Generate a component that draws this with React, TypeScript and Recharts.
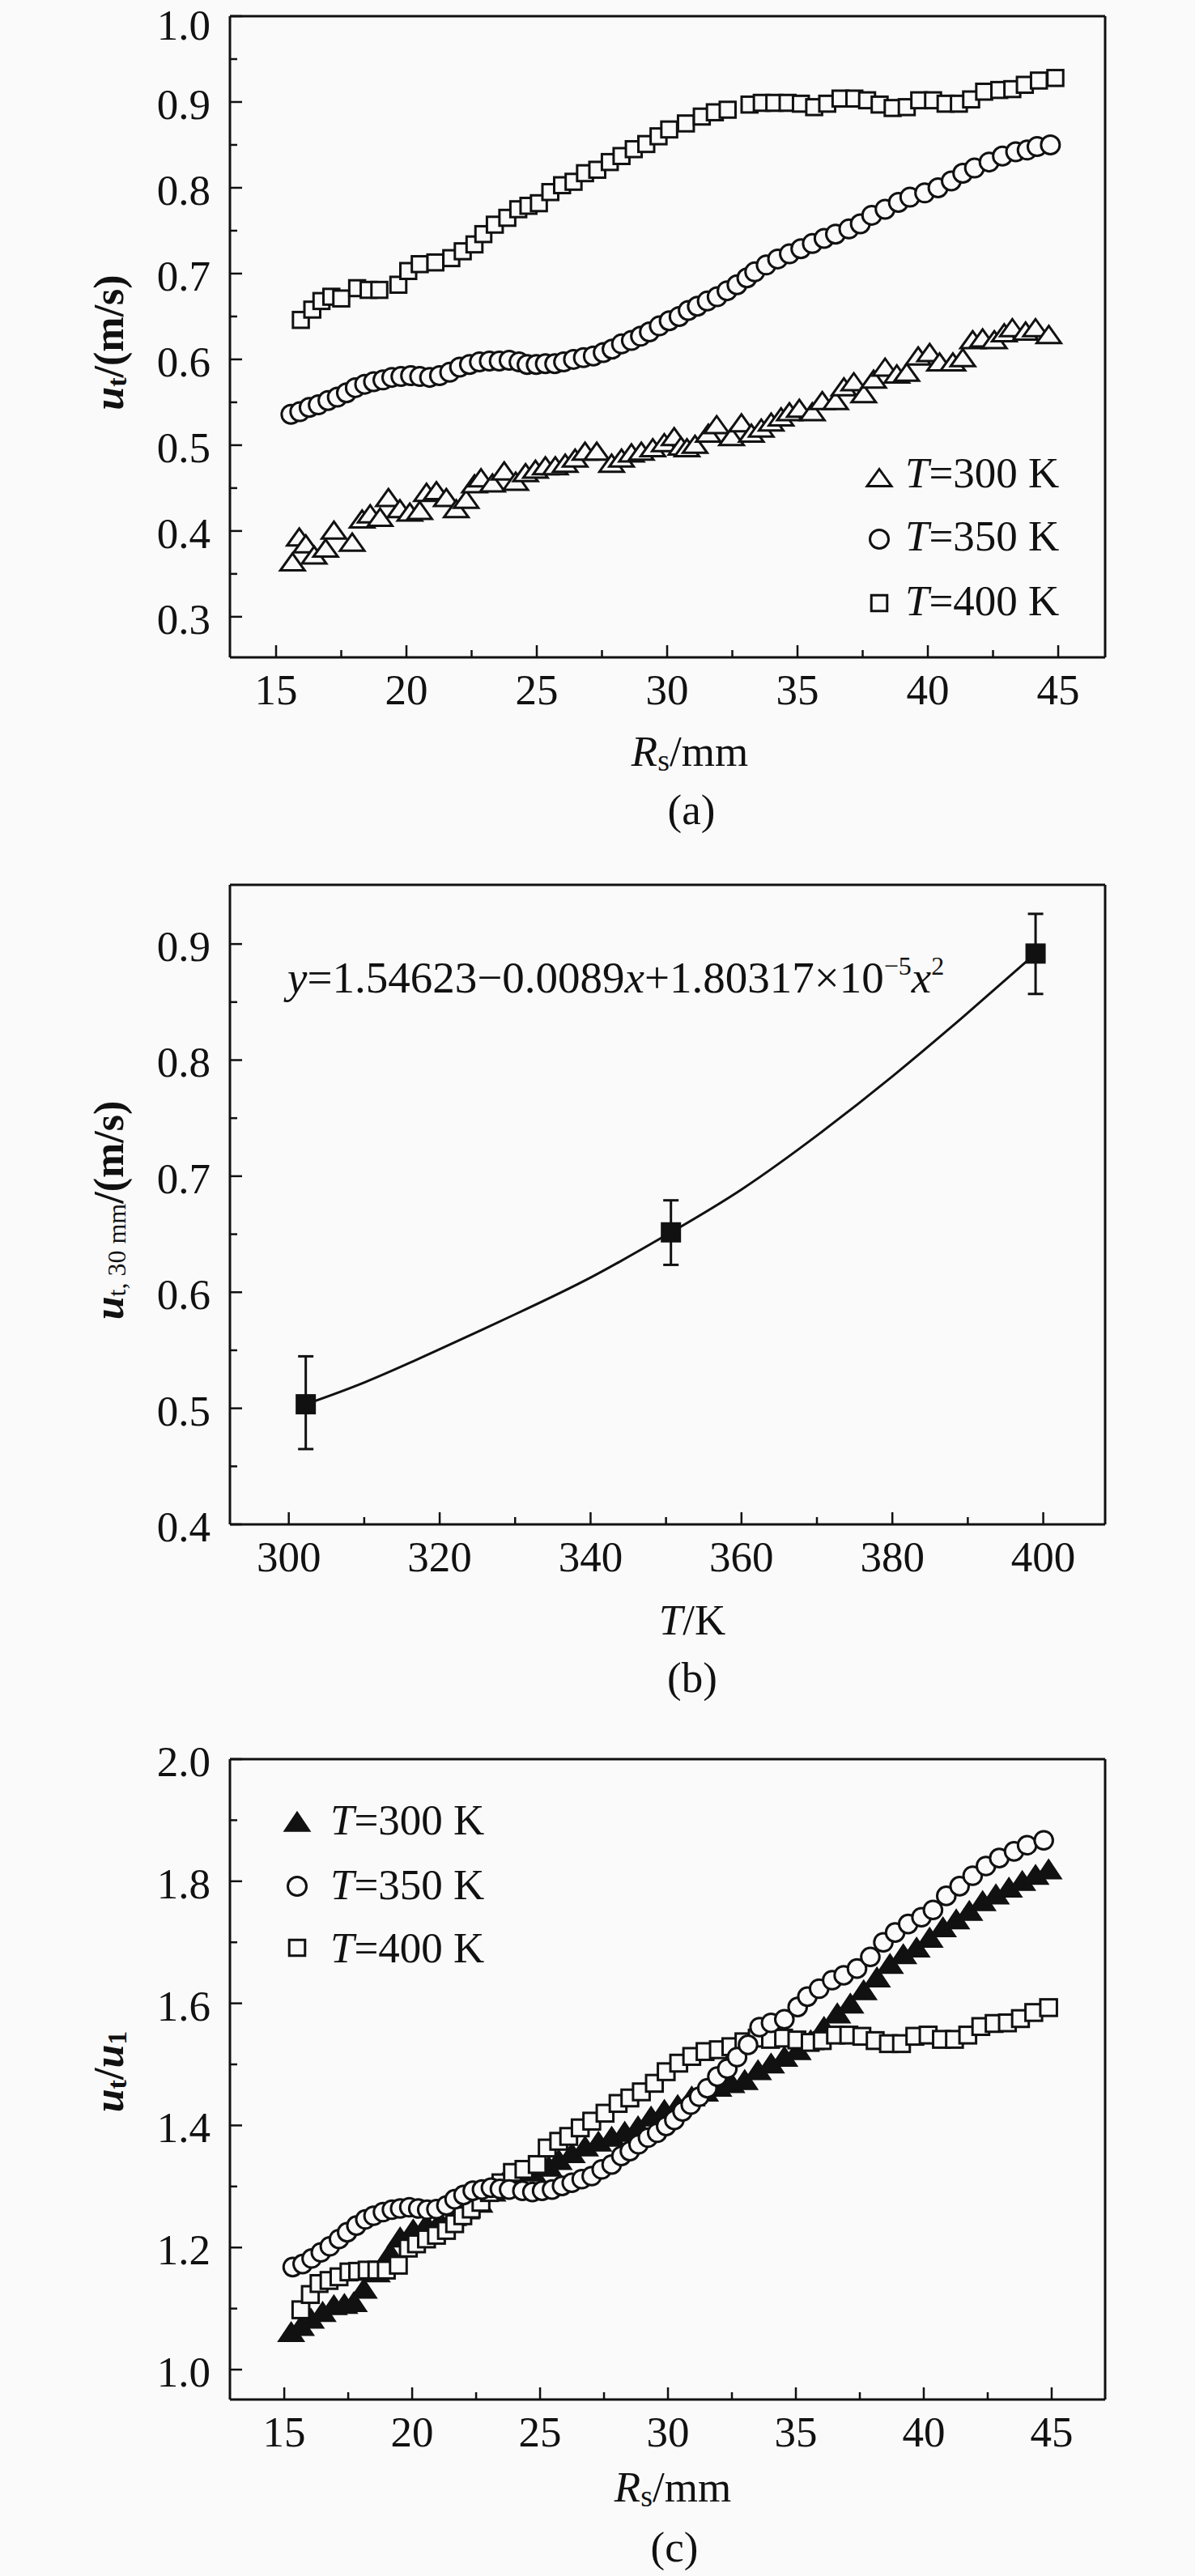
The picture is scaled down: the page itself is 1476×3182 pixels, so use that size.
import React from 'react';
import { ScatterChart, Scatter, XAxis, YAxis, ReferenceLine, ErrorBar, Legend } from 'recharts';

const FONT = '"Liberation Serif", "Times New Roman", serif';
const INK = '#111';
const BG = '#fafafa';

// ---------- (a) u_t vs R_s ----------
const a300: [number, number][] = [
  [15.63,0.364],[15.89,0.393],[16.14,0.385],[16.46,0.372],[16.90,0.380],[17.22,0.401],[17.92,0.387],[18.30,0.414],
  [18.61,0.420],[18.99,0.416],[19.31,0.439],[19.75,0.426],[20.13,0.422],[20.51,0.424],[20.77,0.445],[21.15,0.447],
  [21.53,0.439],[21.91,0.426],[22.29,0.437],[22.61,0.455],[22.86,0.462],[23.30,0.456],[23.75,0.470],[24.19,0.458],
  [24.57,0.468],[24.95,0.472],[25.33,0.476],[25.71,0.476],[26.09,0.479],[26.47,0.485],[26.85,0.493],[27.30,0.493],
  [27.87,0.479],[28.25,0.485],[28.63,0.491],[29.01,0.493],[29.45,0.497],[29.89,0.503],[30.27,0.510],[30.53,0.499],
  [30.76,0.497],[31.07,0.501],[31.58,0.514],[31.90,0.524],[32.47,0.510],[32.85,0.526],[33.23,0.514],[33.61,0.520],
  [33.99,0.527],[34.37,0.533],[34.69,0.539],[35.07,0.543],[35.57,0.539],[35.95,0.552],[36.46,0.552],[36.78,0.568],
  [37.16,0.574],[37.54,0.560],[37.92,0.577],[38.36,0.591],[38.81,0.583],[39.19,0.585],[39.63,0.604],[40.07,0.608],
  [40.45,0.597],[40.96,0.597],[41.34,0.602],[41.72,0.623],[42.10,0.625],[42.55,0.623],[42.93,0.631],[43.24,0.637],
  [43.75,0.633],[44.13,0.637],[44.64,0.629],
];
const a350: [number, number][] = [
  [15.57,0.536],[15.91,0.539],[16.27,0.544],[16.62,0.547],[16.99,0.552],[17.35,0.556],[17.70,0.561],[18.04,0.567],
  [18.40,0.571],[18.74,0.574],[19.10,0.576],[19.44,0.579],[19.79,0.580],[20.16,0.581],[20.51,0.580],[20.89,0.579],
  [21.27,0.581],[21.66,0.585],[22.04,0.591],[22.42,0.594],[22.80,0.597],[23.18,0.598],[23.56,0.598],[23.94,0.599],
  [24.32,0.597],[24.63,0.594],[24.98,0.594],[25.33,0.595],[25.69,0.595],[26.03,0.597],[26.41,0.600],[26.79,0.602],
  [27.17,0.604],[27.55,0.608],[27.89,0.612],[28.25,0.618],[28.63,0.622],[28.98,0.627],[29.32,0.632],[29.70,0.639],
  [30.08,0.645],[30.46,0.650],[30.81,0.657],[31.16,0.662],[31.54,0.668],[31.92,0.673],[32.30,0.680],[32.68,0.687],
  [33.06,0.695],[33.36,0.702],[33.80,0.710],[34.24,0.717],[34.69,0.723],[35.13,0.729],[35.57,0.735],[36.02,0.741],
  [36.46,0.746],[36.97,0.752],[37.41,0.758],[37.85,0.768],[38.36,0.775],[38.87,0.783],[39.31,0.789],[39.88,0.794],
  [40.39,0.800],[40.90,0.808],[41.34,0.817],[41.79,0.823],[42.35,0.830],[42.86,0.837],[43.37,0.842],[43.81,0.844],
  [44.19,0.848],[44.70,0.850],
];
const a400: [number, number][] = [
  [15.95,0.646],[16.39,0.658],[16.74,0.668],[17.12,0.673],[17.50,0.671],[18.11,0.683],[18.55,0.681],[18.96,0.681],
  [19.69,0.687],[20.07,0.703],[20.51,0.711],[21.11,0.713],[21.72,0.718],[22.16,0.726],[22.61,0.734],[22.95,0.746],
  [23.39,0.757],[23.87,0.765],[24.29,0.775],[24.68,0.779],[25.08,0.782],[25.52,0.795],[25.97,0.803],[26.41,0.807],
  [26.85,0.817],[27.32,0.821],[27.80,0.830],[28.25,0.837],[28.72,0.845],[29.20,0.851],[29.67,0.860],[30.08,0.868],
  [30.72,0.875],[31.33,0.883],[31.83,0.888],[32.32,0.891],[33.16,0.897],[33.63,0.899],[34.11,0.899],[34.62,0.899],
  [35.13,0.898],[35.64,0.894],[36.14,0.898],[36.65,0.904],[37.18,0.904],[37.67,0.902],[38.15,0.897],[38.65,0.893],
  [39.19,0.894],[39.67,0.902],[40.20,0.902],[40.68,0.898],[41.19,0.898],[41.66,0.903],[42.16,0.912],[42.74,0.914],
  [43.24,0.915],[43.72,0.920],[44.26,0.925],[44.89,0.928],
];
const aXMajor = [15, 20, 25, 30, 35, 40, 45];
const aXMinor = [17.5, 22.5, 27.5, 32.5, 37.5, 42.5];
const aYMajor = [0.3, 0.4, 0.5, 0.6, 0.7, 0.8, 0.9, 1.0];
const aYMinor = [0.35, 0.45, 0.55, 0.65, 0.75, 0.85, 0.95];

// ---------- (b) u_t,30mm vs T ----------
const bT = [302.25, 350.65, 398.98];
const bU = [0.5035, 0.6516, 0.8918];
const bLow = [0.4649, 0.6236, 0.857];
const bHigh = [0.5448, 0.6792, 0.926];
const bCurveT = [302.25, 310.1, 319.7, 330.0, 340.25, 350.65, 360.1, 370.4, 380.0, 389.5, 398.98];
const bCurveU = [0.5035, 0.5225, 0.550, 0.581, 0.6135, 0.6516, 0.689, 0.737, 0.786, 0.838, 0.8918];
const bXMajor = [300, 320, 340, 360, 380, 400];
const bXMinor = [310, 330, 350, 370, 390];
const bYMajor = [0.4, 0.5, 0.6, 0.7, 0.8, 0.9];
const bYMinor = [0.45, 0.55, 0.65, 0.75, 0.85];

// ---------- (c) u_t/u_1 vs R_s ----------
const c300: [number, number][] = [
  [15.27,1.062],[15.65,1.072],[16.04,1.084],[16.50,1.095],[16.94,1.106],[17.35,1.108],[17.72,1.111],[18.11,1.133],
  [18.62,1.160],[19.14,1.192],[19.53,1.217],[20.04,1.230],[20.56,1.239],[21.08,1.244],[21.60,1.252],[22.11,1.263],
  [22.63,1.274],[23.14,1.292],[23.53,1.306],[24.05,1.317],[24.70,1.325],[25.34,1.333],[25.73,1.344],[26.24,1.355],
  [26.76,1.366],[27.28,1.374],[27.80,1.382],[28.31,1.390],[28.83,1.399],[29.34,1.415],[29.86,1.426],[30.38,1.434],
  [30.93,1.448],[31.45,1.456],[31.97,1.464],[32.48,1.470],[33.00,1.475],[33.52,1.491],[34.03,1.502],[34.55,1.513],
  [35.07,1.524],[35.58,1.540],[36.10,1.562],[36.62,1.584],[37.13,1.600],[37.65,1.622],[38.17,1.643],[38.68,1.665],
  [39.20,1.681],[39.72,1.692],[40.23,1.708],[40.75,1.725],[41.27,1.738],[41.78,1.752],[42.30,1.768],[42.82,1.779],
  [43.33,1.790],[43.85,1.801],[44.37,1.811],[44.88,1.820],
];
const c350: [number, number][] = [
  [15.33,1.168],[15.72,1.173],[16.07,1.182],[16.43,1.192],[16.78,1.202],[17.14,1.214],[17.46,1.225],[17.82,1.236],
  [18.17,1.246],[18.49,1.252],[18.86,1.258],[19.21,1.262],[19.53,1.264],[19.89,1.266],[20.24,1.264],[20.59,1.262],
  [20.95,1.263],[21.34,1.269],[21.66,1.279],[22.01,1.286],[22.37,1.293],[22.73,1.295],[23.08,1.298],[23.43,1.296],
  [23.79,1.295],[24.31,1.293],[24.70,1.291],[25.08,1.293],[25.47,1.295],[25.86,1.301],[26.24,1.306],[26.63,1.312],
  [27.02,1.317],[27.41,1.328],[27.80,1.336],[28.18,1.350],[28.51,1.358],[28.85,1.369],[29.22,1.380],[29.58,1.388],
  [29.93,1.399],[30.25,1.409],[30.57,1.423],[30.89,1.434],[31.22,1.447],[31.54,1.461],[31.93,1.480],[32.32,1.493],
  [32.70,1.512],[33.13,1.532],[33.58,1.561],[34.03,1.568],[34.55,1.574],[35.07,1.594],[35.45,1.611],[35.91,1.624],
  [36.42,1.638],[36.87,1.646],[37.39,1.657],[37.91,1.676],[38.42,1.700],[38.88,1.716],[39.39,1.730],[39.91,1.741],
  [40.36,1.753],[40.88,1.776],[41.40,1.792],[41.91,1.809],[42.43,1.825],[42.95,1.838],[43.53,1.849],[44.04,1.859],
  [44.69,1.867],
];
const c400: [number, number][] = [
  [15.65,1.098],[16.02,1.123],[16.36,1.141],[16.75,1.146],[17.14,1.152],[17.53,1.160],[17.87,1.161],[18.24,1.163],
  [18.62,1.163],[18.99,1.163],[19.46,1.171],[19.85,1.199],[20.17,1.206],[20.56,1.214],[20.95,1.220],[21.34,1.228],
  [21.66,1.239],[21.98,1.252],[22.31,1.263],[22.69,1.274],[23.02,1.290],[23.47,1.306],[23.92,1.323],[24.37,1.328],
  [24.89,1.336],[25.28,1.363],[25.73,1.374],[26.12,1.382],[26.57,1.396],[27.02,1.407],[27.54,1.420],[28.05,1.436],
  [28.51,1.445],[28.96,1.455],[29.47,1.469],[29.93,1.488],[30.42,1.502],[30.93,1.513],[31.45,1.521],[31.97,1.524],
  [32.46,1.529],[32.97,1.537],[33.49,1.543],[34.01,1.541],[34.52,1.543],[35.04,1.540],[35.56,1.536],[36.03,1.539],
  [36.55,1.548],[37.07,1.548],[37.58,1.546],[38.10,1.539],[38.62,1.534],[39.13,1.534],[39.65,1.546],[40.17,1.548],
  [40.69,1.541],[41.20,1.541],[41.72,1.548],[42.23,1.562],[42.75,1.567],[43.27,1.568],[43.78,1.575],[44.30,1.585],
  [44.88,1.593],
];
const cXMajor = [15, 20, 25, 30, 35, 40, 45];
const cXMinor = [17.5, 22.5, 27.5, 32.5, 37.5, 42.5];
const cYMajor = [1.0, 1.2, 1.4, 1.6, 1.8, 2.0];
const cYMinor = [1.1, 1.3, 1.5, 1.7, 1.9];

const toPts = (arr: [number, number][]) => arr.map(([x, y]) => ({ x, y }));

// ---------- shapes ----------
const TriShape = (filled: boolean, w: number, h: number) => (p: any) => {
  const { cx, cy } = p;
  if (cx == null || cy == null) return <g />;
  return (
    <polygon
      points={`${cx - w / 2},${cy + h / 2} ${cx + w / 2},${cy + h / 2} ${cx},${cy - h / 2}`}
      fill={filled ? INK : BG}
      stroke={INK}
      strokeWidth={filled ? 1.5 : 3}
    />
  );
};
const CircShape = (r: number) => (p: any) => {
  const { cx, cy } = p;
  if (cx == null || cy == null) return <g />;
  return <circle cx={cx} cy={cy} r={r} fill={BG} stroke={INK} strokeWidth={3} />;
};
const SqShape = (s: number, filled: boolean) => (p: any) => {
  const { cx, cy } = p;
  if (cx == null || cy == null) return <g />;
  return <rect x={cx - s / 2} y={cy - s / 2} width={s} height={s} fill={filled ? INK : BG} stroke={INK} strokeWidth={3} />;
};
const NoShape = () => <g />;

const isIn = (arr: number[], v: number) => arr.some((m) => Math.abs(m - v) < 1e-6);

const makeXTick = (majors: number[], fmt: (v: number) => string) => (props: any) => {
  const { x, y, payload } = props;
  const v = payload.value;
  const major = isIn(majors, v);
  return (
    <g>
      <line x1={x} x2={x} y1={y} y2={y - (major ? 15 : 9)} stroke={INK} strokeWidth={2.5} />
      {major && (
        <text x={x} y={y + 40} textAnchor="middle" dominantBaseline="central" fontSize={53} fontFamily={FONT} fill={INK}>
          {fmt(v)}
        </text>
      )}
    </g>
  );
};
const makeYTick = (majors: number[], fmt: (v: number) => string) => (props: any) => {
  const { x, y, payload } = props;
  const v = payload.value;
  const major = isIn(majors, v);
  // keep a label that sits on the very top of the page inside the page
  const ty = Math.max(y + 3, 31);
  return (
    <g>
      <line x1={x} x2={x + (major ? 15 : 9)} y1={y} y2={y} stroke={INK} strokeWidth={2.5} />
      {major && (
        <text x={x - 24} y={ty} textAnchor="end" dominantBaseline="central" fontSize={53} fontFamily={FONT} fill={INK}>
          {fmt(v)}
        </text>
      )}
    </g>
  );
};

const AXIS = { stroke: INK, strokeWidth: 3 };

type LegendRow = { kind: 'tri' | 'triF' | 'circ' | 'sq'; label: string; my: number; ty: number };
const makeLegend = (rows: LegendRow[], mx: number, tx: number, w: number, h: number) => () => (
  <svg width={w} height={h} style={{ overflow: 'visible' }}>
    {rows.map((r, i) => (
      <g key={i}>
        {r.kind === 'tri' && TriShape(false, 30, 21)({ cx: mx, cy: r.my })}
        {r.kind === 'triF' && TriShape(true, 32, 24)({ cx: mx, cy: r.my })}
        {r.kind === 'circ' && CircShape(11.5)({ cx: mx, cy: r.my })}
        {r.kind === 'sq' && SqShape(19.5, false)({ cx: mx, cy: r.my })}
        <text x={tx} y={r.ty} dominantBaseline="central" fontSize={53} fontFamily={FONT} fill={INK}>
          <tspan fontStyle="italic">T</tspan>
          <tspan>{r.label}</tspan>
        </text>
      </g>
    ))}
  </svg>
);

const ChartA = () => (
  <ScatterChart width={1476} height={1040} margin={{ top: 20, right: 111, bottom: 0, left: 0 }}>
    <XAxis
      type="number"
      dataKey="x"
      domain={[13.23, 46.8]}
      allowDataOverflow
      ticks={[...aXMajor, ...aXMinor]}
      interval={0}
      tickSize={0}
      tickMargin={0}
      tickLine={false}
      axisLine={AXIS}
      tick={makeXTick(aXMajor, (v) => String(v))}
      height={228}
    />
    <YAxis
      type="number"
      dataKey="y"
      domain={[0.2527, 1.0]}
      allowDataOverflow
      ticks={[...aYMajor, ...aYMinor]}
      interval={0}
      tickSize={0}
      tickMargin={0}
      tickLine={false}
      axisLine={AXIS}
      tick={makeYTick(aYMajor, (v) => v.toFixed(1))}
      width={284}
    />
    <ReferenceLine x={46.8} stroke={INK} strokeWidth={3} ifOverflow="visible" />
    <ReferenceLine y={1.0} stroke={INK} strokeWidth={3} ifOverflow="visible" />
    <Scatter name="T=400 K" data={toPts(a400)} shape={SqShape(19.5, false)} isAnimationActive={false} />
    <Scatter name="T=350 K" data={toPts(a350)} shape={CircShape(11.5)} isAnimationActive={false} />
    <Scatter name="T=300 K" data={toPts(a300)} shape={TriShape(false, 30, 21)} isAnimationActive={false} />
    <Legend
      layout="vertical"
      align="center"
      verticalAlign="middle"
      wrapperStyle={{ position: 'absolute', left: 1060, top: 550, width: 300, height: 230 }}
      content={makeLegend(
        [
          { kind: 'tri', label: '=300 K', my: 40, ty: 34 },
          { kind: 'circ', label: '=350 K', my: 116, ty: 112 },
          { kind: 'sq', label: '=400 K', my: 195, ty: 192 },
        ],
        26,
        58,
        300,
        230
      )}
    />
  </ScatterChart>
);

const bPoints = bT.map((t, i) => ({ x: t, y: bU[i], err: [bU[i] - bLow[i], bHigh[i] - bU[i]] }));
const bCurve = bCurveT.map((t, i) => ({ x: t, y: bCurveU[i] }));

const ChartB = () => (
  <ScatterChart width={1476} height={1080} margin={{ top: 53, right: 111, bottom: 0, left: 0 }}>
    <XAxis
      type="number"
      dataKey="x"
      domain={[292.2, 408.2]}
      allowDataOverflow
      ticks={[...bXMajor, ...bXMinor]}
      interval={0}
      tickSize={0}
      tickMargin={0}
      tickLine={false}
      axisLine={AXIS}
      tick={makeXTick(bXMajor, (v) => String(v))}
      height={237}
    />
    <YAxis
      type="number"
      dataKey="y"
      domain={[0.4, 0.951]}
      allowDataOverflow
      ticks={[...bYMajor, ...bYMinor]}
      interval={0}
      tickSize={0}
      tickMargin={0}
      tickLine={false}
      axisLine={AXIS}
      tick={makeYTick(bYMajor, (v) => v.toFixed(1))}
      width={284}
    />
    <ReferenceLine x={408.2} stroke={INK} strokeWidth={3} ifOverflow="visible" />
    <ReferenceLine y={0.951} stroke={INK} strokeWidth={3} ifOverflow="visible" />
    <Scatter
      name="fit"
      data={bCurve}
      shape={NoShape}
      line={{ stroke: INK, strokeWidth: 3 }}
      lineType="joint"
      lineJointType="natural"
      isAnimationActive={false}
    />
    <Scatter name="data" data={bPoints} shape={SqShape(22, true)} isAnimationActive={false}>
      <ErrorBar dataKey="err" direction="y" width={9.5} stroke={INK} strokeWidth={3} isAnimationActive={false} />
    </Scatter>
  </ScatterChart>
);

const ChartC = () => (
  <ScatterChart width={1476} height={1062} margin={{ top: 53, right: 111, bottom: 0, left: 0 }}>
    <XAxis
      type="number"
      dataKey="x"
      domain={[12.876, 47.09]}
      allowDataOverflow
      ticks={[...cXMajor, ...cXMinor]}
      interval={0}
      tickSize={0}
      tickMargin={0}
      tickLine={false}
      axisLine={AXIS}
      tick={makeXTick(cXMajor, (v) => String(v))}
      height={218}
    />
    <YAxis
      type="number"
      dataKey="y"
      domain={[0.951, 2.0]}
      allowDataOverflow
      ticks={[...cYMajor, ...cYMinor]}
      interval={0}
      tickSize={0}
      tickMargin={0}
      tickLine={false}
      axisLine={AXIS}
      tick={makeYTick(cYMajor, (v) => v.toFixed(1))}
      width={284}
    />
    <ReferenceLine x={47.09} stroke={INK} strokeWidth={3} ifOverflow="visible" />
    <ReferenceLine y={2.0} stroke={INK} strokeWidth={3} ifOverflow="visible" />
    <Scatter name="T=300 K" data={toPts(c300)} shape={TriShape(true, 32, 24)} isAnimationActive={false} />
    <Scatter name="T=400 K" data={toPts(c400)} shape={SqShape(20.5, false)} isAnimationActive={false} />
    <Scatter name="T=350 K" data={toPts(c350)} shape={CircShape(11.3)} isAnimationActive={false} />
    <Legend
      layout="vertical"
      align="center"
      verticalAlign="middle"
      wrapperStyle={{ position: 'absolute', left: 340, top: 2210 - 2120, width: 320, height: 230 }}
      content={makeLegend(
        [
          { kind: 'triF', label: '=300 K', my: 40, ty: 38 },
          { kind: 'circ', label: '=350 K', my: 120, ty: 118 },
          { kind: 'sq', label: '=400 K', my: 196, ty: 196 },
        ],
        27,
        68,
        320,
        230
      )}
    />
  </ScatterChart>
);

const SUB = 34;
const XSUB = 38;

const Overlay = () => (
  <svg width={1476} height={3182} style={{ position: 'absolute', left: 0, top: 0, pointerEvents: 'none' }}>
    <g fontFamily={FONT} fill={INK}>
      {/* (a) */}
      <text transform="translate(134,423) rotate(-90)" textAnchor="middle" dominantBaseline="central" fontSize={52} fontWeight="bold">
        <tspan fontStyle="italic">u</tspan>
        <tspan fontSize={SUB} dy={10}>t</tspan>
        <tspan dy={-10}>/(m/s)</tspan>
      </text>
      <text x={852} y={928} textAnchor="middle" dominantBaseline="central" fontSize={53}>
        <tspan fontStyle="italic">R</tspan>
        <tspan fontSize={XSUB} dy={11}>s</tspan>
        <tspan dy={-11}>/mm</tspan>
      </text>
      <text x={854} y={1000} textAnchor="middle" dominantBaseline="central" fontSize={53}>(a)</text>

      {/* (b) */}
      <text transform="translate(134,1495) rotate(-90)" textAnchor="middle" dominantBaseline="central" fontSize={52} fontWeight="bold">
        <tspan fontStyle="italic">u</tspan>
        <tspan fontSize={32} fontWeight="normal" dy={10}>t, 30 mm</tspan>
        <tspan dy={-10}>/(m/s)</tspan>
      </text>
      <text x={355} y={1226} fontSize={55}>
        <tspan fontStyle="italic">y</tspan>
        <tspan>=1.54623−0.0089</tspan>
        <tspan fontStyle="italic">x</tspan>
        <tspan>+1.80317×10</tspan>
        <tspan fontSize={32} dy={-22}>−5</tspan>
        <tspan fontStyle="italic" dy={22}>x</tspan>
        <tspan fontSize={32} dy={-22}>2</tspan>
      </text>
      <text x={855} y={2001} textAnchor="middle" dominantBaseline="central" fontSize={53}>
        <tspan fontStyle="italic">T</tspan>
        <tspan>/K</tspan>
      </text>
      <text x={855} y={2072} textAnchor="middle" dominantBaseline="central" fontSize={53}>(b)</text>

      {/* (c) */}
      <text transform="translate(134,2559) rotate(-90)" textAnchor="middle" dominantBaseline="central" fontSize={52} fontWeight="bold">
        <tspan fontStyle="italic">u</tspan>
        <tspan fontSize={SUB} dy={10}>t</tspan>
        <tspan dy={-10}>/</tspan>
        <tspan fontStyle="italic">u</tspan>
        <tspan fontSize={SUB} dy={10}>1</tspan>
      </text>
      <text x={831} y={3072} textAnchor="middle" dominantBaseline="central" fontSize={53}>
        <tspan fontStyle="italic">R</tspan>
        <tspan fontSize={XSUB} dy={11}>s</tspan>
        <tspan dy={-11}>/mm</tspan>
      </text>
      <text x={833} y={3146} textAnchor="middle" dominantBaseline="central" fontSize={53}>(c)</text>
    </g>
  </svg>
);

export default function App() {
  return (
    <div style={{ position: 'absolute', left: 0, top: 0, width: 1476, height: 3182, background: BG, fontFamily: FONT }}>
      <div style={{ position: 'absolute', left: 0, top: 0 }}>
        <ChartA />
      </div>
      <div style={{ position: 'absolute', left: 0, top: 1040 }}>
        <ChartB />
      </div>
      <div style={{ position: 'absolute', left: 0, top: 2120 }}>
        <ChartC />
      </div>
      <Overlay />
    </div>
  );
}
